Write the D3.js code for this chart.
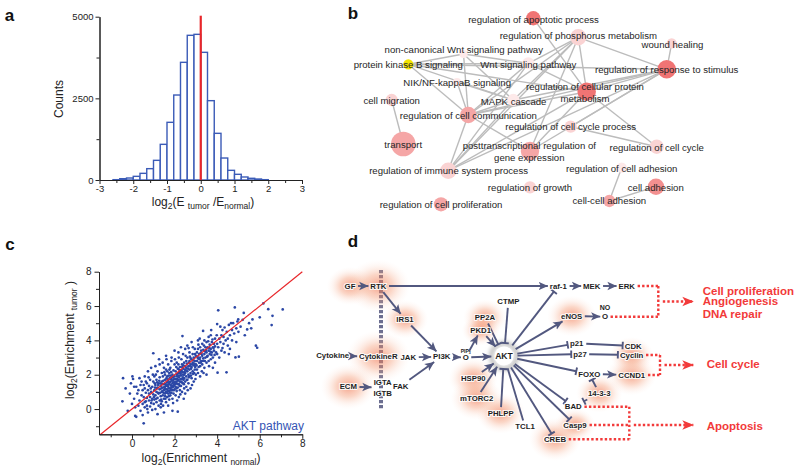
<!DOCTYPE html>
<html>
<head>
<meta charset="utf-8">
<script src="https://cdn.jsdelivr.net/npm/d3@7/dist/d3.min.js"></script>
<style>
body{margin:0;background:#fff;}
svg{display:block;font-family:"Liberation Sans",Arial,Helvetica,sans-serif;}
</style>
</head>
<body>
<svg id="fig" width="800" height="475"></svg>
<script>
// ================= DATA =================
// Panel a: histogram of log2(E_tumor/E_normal)
const histBinStart = [-2.6,-2.4,-2.2,-2.0,-1.8,-1.6,-1.4,-1.2,-1.0,-0.8,-0.6,-0.4,-0.2,0,0.2,0.4,0.6,0.8,1.0,1.2,1.4,1.6,1.8];
const histCounts   = [10,40,61,112,204,347,602,1092,1766,2602,3603,4430,4460,3909,2429,1429,673,296,174,92,52,30,10];
const histBinWidth = 0.2;
const histXTicks = [-3,-2,-1,0,1,2,3];
const histXMinor = [-2.5,-1.5,-0.5,0.5,1.5,2.5];
const histYTicks = [0,2500,5000];
const histYMinor = [1250,3750];

// Panel b: GO term network  [id, label, x, y, labelX, labelY, genes, level]
const netNodes = [
 ["apoptotic","regulation of apoptotic process",203.3,18.3,203.5,19.3,49,3],
 ["phosphorus","regulation of phosphorus metabolism",248.3,37.3,248.3,36,64,1],
 ["wound","wound healing",341.7,43.3,342.5,44.3,25,1],
 ["response","regulation of response to stimulus",336.7,69.3,336.7,69.5,81,3],
 ["noncanon","non-canonical Wnt signaling pathway",133.5,54,133.8,50,16,0],
 ["pkb","protein kinase B signaling",78.3,64.3,78.3,65,25,4],
 ["wnt","Wnt signaling pathway",198.3,63.3,198.3,65,36,0],
 ["nik","NIK/NF-kappaB signaling",127,82,127.2,82.7,16,0],
 ["cellprot","regulation of cellular protein\nmetabolism",256.7,91.7,255,92.8,81,3],
 ["migration","cell migration",61.7,100,61.7,100.7,36,1],
 ["mapk","MAPK cascade",183.3,100,183.6,101.7,36,0],
 ["comm","regulation of cell communication",138.3,115,138.3,116,64,2],
 ["cycleproc","regulation of cell cycle process",240.7,126.7,240.7,126.9,36,1],
 ["transport","transport",73.3,144,73.3,145,144,2],
 ["posttx","posttranscriptional regulation of\ngene expression",200,151,199.3,151.5,81,2],
 ["cellcycle","regulation of cell cycle",326.7,146.7,326.7,147.3,49,1],
 ["immune","regulation of immune system process",118.3,170.7,118.6,171,64,1],
 ["adhreg","regulation of cell adhesion",291.7,167.7,291.7,168.3,25,0],
 ["growth","regulation of growth",200,187.3,200,187.7,36,1],
 ["celladh","cell adhesion",326,186.7,325.8,187.3,64,2.5],
 ["cellcell","cell-cell adhesion",279.3,201,279.3,201,36,2],
 ["prolif","regulation of cell proliferation",111,204.3,111,205,49,2]
];
const netEdges = [
 ["apoptotic","cellprot"],
 ["phosphorus","response"],["phosphorus","cellprot"],["phosphorus","comm"],["phosphorus","posttx"],
 ["phosphorus","mapk"],["phosphorus","immune"],["phosphorus","wnt"],
 ["wound","response"],
 ["response","cellprot"],["response","comm"],["response","posttx"],["response","pkb"],
 ["response","immune"],["response","mapk"],["response","cycleproc"],
 ["pkb","comm"],["pkb","mapk"],["pkb","noncanon"],["pkb","wnt"],["pkb","cellprot"],
 ["noncanon","comm"],["noncanon","wnt"],["noncanon","mapk"],
 ["wnt","comm"],["wnt","immune"],["wnt","cellprot"],
 ["nik","comm"],["nik","mapk"],
 ["migration","transport"],
 ["comm","posttx"],["comm","cellprot"],["comm","immune"],["comm","mapk"],
 ["cellprot","cellcycle"],["cellprot","posttx"],["cellprot","immune"],
 ["cycleproc","cellcycle"],
 ["mapk","immune"],
 ["celladh","cellcell"],["adhreg","cellcell"]
];
const netLevelColors = {0:"#fde9e9",1:"#fad3d3",2:"#f5a6a6",2.5:"#f39090",3:"#f07474",4:"#f3e400"};

// Panel c: AKT pathway enrichment scatter  [log2 normal, log2 tumor]
const scatterTicks = [0,2,4,6,8];
const scatterMinor = [-1,1,3,5,7];
const aktPoints = [
 [-0.42,1.8],[-0.45,0.45],[-0.3,1.2],[-0.1,0.9],[-0.2,-0.1],[0.02,1.9],[0.05,1.75],[0.0,0.3],[-0.05,1.5],
 [0.1,0.6],[0.15,-0.4],[0.2,-0.45],[0.2,1.3],[0.25,0.9],[0.3,0.2],[0.3,1.1],[0.35,0.5],[0.4,1.4],[0.4,-0.1],[0.45,0.8],[0.45,1.6],[0.5,0.3],[0.5,-0.35],[0.5,1.1],[0.1,1.3],[0.35,1.8],[0.15,0.1],
 [0.55,-0.83],[0.55,0.7],[0.6,1.2],[0.6,0.1],[0.6,1.9],[0.65,0.45],[0.65,0.95],[0.7,0.2],[0.7,1.5],[0.7,0.65],[0.75,1.1],[0.75,-0.2],[0.75,2.2],[0.8,0.5],[0.8,0.9],[0.8,1.35],[0.85,0.15],[0.85,1.7],[0.85,0.7],[0.9,1.0],[0.9,0.35],[0.9,2.4],[0.95,0.6],[0.95,1.3],[0.95,-0.05],[1.0,0.85],[1.0,1.6],[1.0,3.25],[0.6,0.4],[0.65,1.6],[0.72,0.0],[0.78,1.85],[0.88,1.2],[0.92,0.5],[0.98,2.0],[0.55,1.4],
 [1.02,0.3],[1.05,1.1],[1.05,0.55],[1.05,1.9],[1.1,0.0],[1.1,1.4],[1.1,0.8],[1.1,2.5],[1.15,1.0],[1.15,0.4],[1.15,1.7],[1.2,0.65],[1.2,1.25],[1.2,2.2],[1.2,-0.3],[1.25,0.9],[1.25,1.5],[1.25,0.2],[1.3,1.15],[1.3,0.5],[1.3,1.85],[1.3,2.6],[1.35,0.75],[1.35,1.35],[1.35,0.1],[1.4,1.0],[1.4,1.6],[1.4,0.45],[1.4,2.1],[1.45,1.25],[1.45,0.8],[1.45,1.9],[1.5,0.6],[1.5,1.45],[1.5,1.1],[1.5,2.4],[1.5,-0.2],[1.08,1.25],[1.18,1.55],[1.22,0.95],[1.28,1.65],[1.32,0.95],[1.38,1.2],[1.42,1.45],[1.48,0.95],[1.12,2.0],[1.27,2.9],[1.44,2.7],[1.36,0.3],[1.46,0.2],
 [1.55,1.2],[1.55,0.9],[1.55,1.7],[1.55,2.0],[1.6,0.4],[1.6,1.35],[1.6,1.0],[1.6,2.3],[1.6,3.1],[1.65,1.55],[1.65,0.7],[1.65,1.15],[1.65,1.9],[1.7,1.3],[1.7,0.9],[1.7,1.7],[1.7,2.6],[1.7,0.2],[1.75,1.45],[1.75,1.05],[1.75,2.1],[1.75,0.55],[1.8,1.6],[1.8,1.2],[1.8,0.8],[1.8,2.4],[1.8,1.95],[1.85,1.35],[1.85,1.75],[1.85,0.95],[1.85,2.8],[1.9,1.5],[1.9,1.1],[1.9,2.0],[1.9,0.6],[1.9,-0.1],[1.95,1.7],[1.95,1.3],[1.95,2.25],[1.95,0.9],[2.0,1.55],[2.0,1.9],[2.0,1.15],[2.0,2.6],[2.0,3.4],[1.58,1.45],[1.62,1.8],[1.68,1.4],[1.72,1.95],[1.78,1.55],[1.82,1.4],[1.88,1.65],[1.92,1.85],[1.98,1.4],[1.66,2.2],[1.76,2.3],[1.84,2.15],[1.57,0.6],[1.73,0.75],[1.93,0.35],[1.62,2.9],[1.86,3.0],[1.52,2.15],
 [2.05,1.3],[2.05,1.75],[2.05,2.2],[2.05,0.8],[2.1,1.5],[2.1,2.0],[2.1,1.05],[2.1,2.7],[2.15,1.65],[2.15,1.25],[2.15,2.35],[2.15,-0.15],[2.2,1.85],[2.2,1.45],[2.2,2.1],[2.2,0.7],[2.2,3.0],[2.25,1.6],[2.25,2.45],[2.25,1.1],[2.3,1.95],[2.3,1.35],[2.3,2.25],[2.3,3.6],[2.35,1.75],[2.35,2.6],[2.35,1.0],[2.37,4.25],[2.4,2.0],[2.4,1.5],[2.4,2.35],[2.4,3.2],[2.45,1.8],[2.45,2.7],[2.45,1.2],[2.5,2.1],[2.5,1.6],[2.5,2.5],[2.5,3.5],[2.5,0.9],[2.08,2.45],[2.12,1.9],[2.18,2.6],[2.22,1.95],[2.28,1.75],[2.32,2.9],[2.38,2.15],[2.42,1.7],[2.48,2.3],[2.12,0.5],[2.27,0.85],[2.43,0.6],[2.18,3.3],[2.33,1.55],[2.46,2.0],[2.02,2.9],[2.26,2.15],[2.36,2.45],
 [2.55,1.9],[2.55,2.4],[2.55,2.8],[2.55,1.3],[2.6,2.2],[2.6,1.7],[2.6,3.0],[2.6,3.7],[2.65,2.5],[2.65,2.0],[2.65,1.5],[2.7,2.3],[2.7,2.8],[2.7,1.9],[2.7,3.3],[2.75,2.6],[2.75,2.1],[2.75,1.2],[2.8,2.45],[2.8,2.9],[2.8,1.8],[2.8,3.9],[2.85,2.7],[2.85,2.2],[2.85,3.2],[2.9,2.55],[2.9,3.0],[2.9,1.6],[2.95,2.8],[2.95,2.3],[2.95,3.5],[3.0,2.6],[3.0,3.1],[3.0,2.0],[2.58,2.65],[2.68,2.7],[2.72,3.05],[2.78,2.35],[2.88,2.85],[2.92,2.1],[2.62,1.1],[2.82,1.4],[2.98,1.75],[2.66,3.55],[2.86,3.6],[2.52,3.1],[2.76,2.95],[2.96,3.2],
 [3.05,2.8],[3.05,3.3],[3.05,2.3],[3.1,2.95],[3.1,3.5],[3.1,2.1],[3.1,4.0],[3.15,2.7],[3.15,3.2],[3.2,3.0],[3.2,2.5],[3.2,3.6],[3.2,1.9],[3.25,3.4],[3.25,2.8],[3.3,3.1],[3.3,2.6],[3.3,3.8],[3.34,4.55],[3.35,2.95],[3.35,3.45],[3.4,3.2],[3.4,2.4],[3.4,4.0],[3.45,3.0],[3.45,3.6],[3.5,3.3],[3.5,2.7],[3.5,3.9],[3.5,2.0],[3.12,3.75],[3.22,3.25],[3.28,2.2],[3.38,3.7],[3.42,2.8],[3.48,3.45],[3.18,4.1],[3.36,2.1],
 [3.55,3.1],[3.55,3.6],[3.6,3.4],[3.6,2.8],[3.6,4.2],[3.65,3.2],[3.65,3.75],[3.7,3.5],[3.7,2.9],[3.7,4.3],[3.75,3.3],[3.75,3.9],[3.8,3.6],[3.8,3.0],[3.8,2.4],[3.85,3.8],[3.85,3.4],[3.9,3.65],[3.9,4.1],[3.9,2.7],[3.95,3.3],[4.0,3.8],[4.0,4.95],[4.0,3.2],[4.02,2.12],[3.58,3.95],[3.68,3.35],[3.78,4.05],[3.88,3.15],[3.98,4.3],[3.62,2.5],[3.72,4.6],
 [4.05,5.75],[4.05,3.6],[4.1,4.1],[4.1,3.0],[4.15,3.9],[4.2,4.3],[4.2,3.4],[4.25,4.6],[4.3,3.8],[4.3,4.2],[4.35,3.3],[4.4,4.0],[4.44,2.14],[4.45,4.5],[4.5,4.1],[4.5,3.7],[4.55,4.9],[4.6,4.3],[4.6,3.5],[4.7,4.6],[4.7,4.0],[4.75,5.0],[4.8,4.4],[4.83,5.92],[4.86,3.01],[4.9,4.7],[4.9,3.9],[4.95,5.1],[5.0,4.5],[4.15,4.8],[4.35,4.75],[4.65,5.0],[4.25,3.55],[4.55,3.2],
 [4.99,5.22],[5.02,3.05],[5.1,4.8],[5.2,5.2],[5.3,4.3],[5.41,4.64],[5.5,5.0],[5.66,5.22],[5.82,3.69],[5.88,3.57],[6.0,5.34],[6.17,6.15],[6.4,5.82],[6.56,4.89],[6.6,5.43],[7.08,5.8],[5.25,5.6],[5.6,4.7],
 [1.03,0.7],[1.07,1.5],[1.13,0.6],[1.17,1.2],[1.23,1.4],[1.33,1.5],[1.37,0.55],[1.43,1.05],[1.47,1.65],[1.53,1.3],[1.56,0.75],[1.59,1.15],[1.63,0.95],[1.67,1.7],[1.69,1.05],[1.71,1.55],[1.74,1.2],[1.77,1.8],[1.79,0.95],[1.81,1.75],[1.83,1.1],[1.87,1.25],[1.89,1.9],[1.91,1.35],[1.94,1.55],[1.97,1.1],[1.99,1.75],[2.03,1.45],[2.07,1.6],[2.09,1.2],[2.11,1.75],[2.14,2.05],[2.16,1.45],[2.19,1.7],[2.21,2.3],[2.24,1.35],[2.29,2.05],[2.31,1.6],[2.34,2.2],[2.39,1.85],[2.41,2.55],[2.44,1.45],[2.47,2.15],[2.53,2.25],[2.57,1.7],[2.63,2.35],[2.67,1.85],[2.73,2.5],[2.77,1.95],[2.83,2.6],[2.87,2.05],[2.93,2.65],[2.97,2.45],[3.03,2.55],[3.08,3.05],[3.13,2.45],[3.17,2.9],[3.23,2.7],[3.27,3.2],[3.33,2.8],[3.44,3.35],[3.53,3.05],[3.63,3.55],[3.73,3.15],[3.83,3.55]
];

// Panel d: AKT signalling diagram  [id, label, x, y, glow]
const pathNodes = [
 ["GF","GF",40,56,16],["RTK","RTK",68.3,56,22],["IRS1","IRS1",95,89.3,16],
 ["Cytokine","Cytokine",22.7,125.7,0],["CytokineR","CytokineR",68.3,126.7,22],["JAK","JAK",98.3,127.3,0],
 ["PI3K","PI3K",131.7,126.7,0],["PIP3","O",155.7,127.5,0],["AKT","AKT",194,126,0],
 ["ECM","ECM",38.3,156.7,19],["IGT","IGTA\nIGTB",72.7,157.5,0],["FAK","FAK",90.7,156,0],
 ["CTMP","CTMP",198.3,71.7,0],["PP2A","PP2A",175,87.3,15],["PKD1","PKD1",170.7,100,13],
 ["HSP90","HSP90",163.3,148.3,17],["mTORC2","mTORC2",166.7,168.3,18],["PHLPP","PHLPP",190.7,183.3,17],
 ["TCL1","TCL1",215,196.7,0],["CREB","CREB",245,209.3,18],["Casp9","Casp9",265,195,14],
 ["BAD","BAD",263.3,176.7,0],["1433","14-3-3",289.3,163.3,16],["FOXO","FOXO",279.3,144,0],
 ["CCND1","CCND1",321.7,145,17],["p21","p21",266.7,113.3,0],["p27","p27",270,124,0],
 ["CDK","CDK",323.3,116,0],["Cyclin","Cyclin",321.7,125,15],["eNOS","eNOS",261.7,86,17],
 ["NO","O",295,86.7,0],["raf1","raf-1",248.3,56,0],["MEK","MEK",281.7,56,0],["ERK","ERK",316.7,56,0]
];
const pathCaptions = [["PIP3","PIP","3",5],["NO","NO","",7]];
const pathEdges = [
 ["GF","RTK","a"],["RTK","raf1","a"],["raf1","MEK","a"],["MEK","ERK","a"],
 ["RTK","IRS1","a"],["IRS1","PI3K","a"],["Cytokine","CytokineR","a"],["JAK","PI3K","a"],
 ["FAK","PI3K","a"],["ECM","IGT","a"],["PI3K","PIP3","a"],["PIP3","PKD1","a"],["PIP3","AKT","a"],
 ["PKD1","AKT","a"],["PP2A","AKT","t"],["CTMP","AKT","t"],["HSP90","AKT","a"],["mTORC2","AKT","a"],
 ["PHLPP","AKT","t"],["TCL1","AKT","n"],
 ["AKT","raf1","t"],["AKT","eNOS","a"],["eNOS","NO","a"],
 ["AKT","p21","t"],["AKT","p27","t"],["AKT","FOXO","t"],["AKT","BAD","t"],["AKT","Casp9","t"],["AKT","CREB","t"],
 ["p21","CDK","t"],["p27","Cyclin","t"],["FOXO","CCND1","a"],["1433","FOXO","t"],["1433","BAD","t"]
];
const pathOutputs = [
 {labels:["Cell proliferation","Angiogenesis","DNA repair"], labelX:392.7, labelY:[61,71.3,83.5], sources:["ERK","NO"], bracketX:348.3, arrowY:71.5},
 {labels:["Cell cycle"], labelX:396.7, labelY:[134.3], sources:["Cyclin","CCND1"], bracketX:350, arrowY:135},
 {labels:["Apoptosis"], labelX:396.7, labelY:[195.7], sources:["BAD","Casp9","CREB"], bracketX:319.3, arrowY:195}
];

// ================= DRAWING =================
const svg = d3.select("#fig");
svg.append("rect").attr("width",800).attr("height",475).attr("fill","#fff");
const defs = svg.append("defs");
const INK = "#222";

function styleAxis(g, fs){
  g.attr("font-family",null).attr("font-size",fs);
  g.selectAll("path,line").attr("stroke",INK).attr("stroke-width",1);
  g.selectAll("text").attr("fill",INK);
}
function subLabel(t, parts, base, sub){
  parts.forEach(([s,isSub],i)=>{
    const prev = i>0 ? parts[i-1][1] : false;
    const sp = t.append("tspan").text(s).attr("font-size", isSub ? sub : base);
    if(isSub && !prev) sp.attr("dy", 3.2);
    if(!isSub && prev) sp.attr("dy", -3.2);
  });
}

// panel letters
[["a",9.5,21],["b",353,19],["c",10,250],["d",353,247]].forEach(([l,x,y])=>{
  svg.append("text").attr("x",x).attr("y",y).attr("text-anchor","middle")
    .attr("font-size",17).attr("font-weight","bold").attr("fill","#111").text(l);
});

// ---------- Panel a ----------
{
  const xA = d3.scaleLinear().domain([-3,3]).range([99.5,302]);
  const yA = d3.scaleLinear().domain([0,5000]).range([180,16.7]);
  const g = svg.append("g");
  g.selectAll("rect.bar").data(histCounts).join("rect")
    .attr("x",(d,i)=>xA(histBinStart[i]))
    .attr("width",(d,i)=>xA(histBinStart[i]+histBinWidth)-xA(histBinStart[i]))
    .attr("y",d=>yA(d)).attr("height",d=>yA(0)-yA(d))
    .attr("fill","#fff").attr("stroke","#3b5bb7").attr("stroke-width",1.4);
  g.append("line").attr("x1",xA(0)).attr("x2",xA(0)).attr("y1",yA(5000)-1).attr("y2",yA(0))
    .attr("stroke","#e8262a").attr("stroke-width",2.2);
  const ym = g.append("g").attr("transform",`translate(${xA(-3)},0)`)
    .call(d3.axisLeft(yA).tickValues(histYMinor).tickSize(3).tickSizeOuter(0).tickFormat(""));
  styleAxis(ym,9.5);
  const yM = g.append("g").attr("transform",`translate(${xA(-3)},0)`)
    .call(d3.axisLeft(yA).tickValues(histYTicks).tickSize(4).tickSizeOuter(0).tickPadding(2).tickFormat(d=>String(d)));
  styleAxis(yM,9.5);
  const xm = g.append("g").attr("transform",`translate(0,${yA(0)})`)
    .call(d3.axisBottom(xA).tickValues(histXMinor).tickSize(3).tickSizeOuter(0).tickFormat(""));
  styleAxis(xm,9.5);
  const xM = g.append("g").attr("transform",`translate(0,${yA(0)})`)
    .call(d3.axisBottom(xA).tickValues(histXTicks).tickSize(4).tickSizeOuter(0).tickPadding(1).tickFormat(d=>String(d)));
  styleAxis(xM,9.5);
  g.append("text").attr("transform","translate(59,99) rotate(-90)").attr("text-anchor","middle")
    .attr("dy","0.35em").attr("font-size",12).attr("fill",INK).text("Counts");
  const t = g.append("text").attr("x",203).attr("y",206).attr("text-anchor","middle").attr("fill",INK);
  subLabel(t,[["log",0],["2",1],["(E ",0],["tumor",1],[" /E",0],["normal",1],[")",0]],12,8.5);
}

// ---------- Panel b ----------
{
  const bX = d3.scaleLinear().domain([0,470]).range([330,800]);
  const bY = d3.scaleLinear().domain([0,230]).range([0,230]);
  const rS = d3.scaleSqrt().domain([0,144]).range([0,12.3]);
  const g = svg.append("g");
  const byId = {};
  netNodes.forEach(n=>{ byId[n[0]] = n; });
  g.selectAll("line.edge").data(netEdges).join("line")
    .attr("x1",d=>bX(byId[d[0]][2])).attr("y1",d=>bY(byId[d[0]][3]))
    .attr("x2",d=>bX(byId[d[1]][2])).attr("y2",d=>bY(byId[d[1]][3]))
    .attr("stroke","#bcbcbc").attr("stroke-width",1.4);
  g.selectAll("circle.node").data(netNodes).join("circle")
    .attr("cx",d=>bX(d[2])).attr("cy",d=>bY(d[3])).attr("r",d=>rS(d[6]))
    .attr("fill",d=>netLevelColors[d[7]]);
  netNodes.forEach(d=>{
    const lines = d[1].split("\n");
    const lh = 12;
    const t = g.append("text").attr("text-anchor","middle").attr("font-size",9.6).attr("fill","#262626");
    lines.forEach((s,i)=>{
      t.append("tspan").attr("x",bX(d[4]))
        .attr("y",bY(d[5]) + (i-(lines.length-1)/2)*lh).attr("dy","0.35em").text(s);
    });
  });
}

// ---------- Panel c ----------
{
  const xC = d3.scaleLinear().domain([-1.55,8]).range([99,302.3]);
  const yC = d3.scaleLinear().domain([-1.47,8]).range([434.3,271.7]);
  const g = svg.append("g");
  g.selectAll("circle.pt").data(aktPoints).join("circle")
    .attr("cx",d=>xC(d[0])).attr("cy",d=>yC(d[1])).attr("r",1.35).attr("fill","#2b47a6");
  g.append("line").attr("x1",xC(-1.5)).attr("y1",yC(-1.5)).attr("x2",xC(8)).attr("y2",yC(8))
    .attr("stroke","#e8262a").attr("stroke-width",1.2);
  const x0 = xC(-1.55), y0 = yC(-1.47);
  const a1 = g.append("g").attr("transform",`translate(${x0},0)`)
    .call(d3.axisLeft(yC).tickValues(scatterMinor).tickSize(3).tickSizeOuter(0).tickFormat(""));
  styleAxis(a1,10);
  const a2 = g.append("g").attr("transform",`translate(${x0},0)`)
    .call(d3.axisLeft(yC).tickValues(scatterTicks).tickSize(4.5).tickSizeOuter(0).tickPadding(3).tickFormat(d=>String(d)));
  styleAxis(a2,10);
  const a3 = g.append("g").attr("transform",`translate(0,${y0})`)
    .call(d3.axisBottom(xC).tickValues(scatterMinor).tickSize(3).tickSizeOuter(0).tickFormat(""));
  styleAxis(a3,10);
  const a4 = g.append("g").attr("transform",`translate(0,${y0})`)
    .call(d3.axisBottom(xC).tickValues(scatterTicks).tickSize(4.5).tickSizeOuter(0).tickPadding(1).tickFormat(d=>String(d)));
  styleAxis(a4,10);
  g.append("text").attr("x",304).attr("y",430).attr("text-anchor","end")
    .attr("font-size",12).attr("fill","#3454b4").text("AKT pathway");
  const ty = g.append("text").attr("transform","translate(74,340) rotate(-90)").attr("text-anchor","middle").attr("fill",INK);
  subLabel(ty,[["log",0],["2",1],["(Enrichment ",0],["tumor",1],[" )",0]],12,8.5);
  const tx = g.append("text").attr("x",201).attr("y",462).attr("text-anchor","middle").attr("fill",INK);
  subLabel(tx,[["log",0],["2",1],["(Enrichment ",0],["normal",1],[")",0]],12,8.5);
}

// ---------- Panel d ----------
{
  const dX = d3.scaleLinear().domain([0,490]).range([310,800]);
  const dY = d3.scaleLinear().domain([0,245]).range([230,475]);
  const SL = "#52587f", RED = "#f23a3a";
  const grad = defs.append("radialGradient").attr("id","glow");
  grad.append("stop").attr("offset","0").attr("stop-color","#ef6a44").attr("stop-opacity",0.62);
  grad.append("stop").attr("offset","0.45").attr("stop-color","#f4946c").attr("stop-opacity",0.38);
  grad.append("stop").attr("offset","0.75").attr("stop-color","#f8bca2").attr("stop-opacity",0.15);
  grad.append("stop").attr("offset","1").attr("stop-color","#fde0d4").attr("stop-opacity",0);
  const blur = defs.append("filter").attr("id","blurA").attr("x","-50%").attr("y","-50%").attr("width","200%").attr("height","200%");
  blur.append("feGaussianBlur").attr("stdDeviation",2.4);
  const mk = (id,path,vb,ref,w,fill,stroke)=>{
    const m = defs.append("marker").attr("id",id).attr("viewBox",vb).attr("refX",ref).attr("refY",0)
      .attr("markerUnits","userSpaceOnUse").attr("markerWidth",w).attr("markerHeight",w).attr("orient","auto");
    const p = m.append("path").attr("d",path);
    if(fill) p.attr("fill",fill); else p.attr("fill","none");
    if(stroke) p.attr("stroke",stroke).attr("stroke-width",1.9);
  };
  mk("arrS","M0,-4L9,0L0,4L2.2,0Z","0 -5 10 10",8.8,10.5,SL,null);
  mk("tS","M0,-3.8V3.8","-2 -5 4 10",0,10,null,SL);
  mk("arrR","M0,-4.8L11.5,0L0,4.8L3,0Z","0 -6 12 12",11,12,RED,null);

  const g = svg.append("g");
  const nodes = {};
  pathNodes.forEach(([id,label,x,y,glow])=>{ nodes[id] = {id,label,x,y,glow}; });

  // membrane
  g.append("line").attr("x1",dX(71)).attr("x2",dX(71)).attr("y1",dY(40)).attr("y2",dY(178.5))
    .attr("stroke","#6b6e90").attr("stroke-width",4).attr("stroke-dasharray","3.2,1.8");
  // glows
  g.append("g").selectAll("ellipse").data(pathNodes.filter(d=>d[4]>0)).join("ellipse")
    .attr("cx",d=>dX(d[2])).attr("cy",d=>dY(d[3])).attr("rx",d=>d[4]*1.45).attr("ry",d=>d[4]*1.2)
    .attr("fill","url(#glow)");
  // AKT halo
  const akt = nodes["AKT"];
  g.append("circle").attr("cx",dX(akt.x)).attr("cy",dY(akt.y)).attr("r",14).attr("fill","#a0a0a0").attr("filter","url(#blurA)");
  g.append("circle").attr("cx",dX(akt.x)).attr("cy",dY(akt.y)).attr("r",11.5).attr("fill","#fff").attr("filter","url(#blurA)");
  g.append("circle").attr("cx",dX(akt.x)).attr("cy",dY(akt.y)).attr("r",9.5).attr("fill","#fff");

  const gLines = g.append("g");
  const gRed = g.append("g");
  const gText = g.append("g");

  // labels
  Object.values(nodes).forEach(n=>{
    const lines = n.label.split("\n");
    const lh = 11;
    const fs = n.id==="AKT" ? 8.6 : 7.8;
    const t = gText.append("text").attr("text-anchor","middle").attr("font-size",fs).attr("font-weight","bold")
      .attr("fill","#1e1e1e").attr("stroke","#fff").attr("stroke-width",2.2).attr("stroke-opacity",0.85)
      .attr("stroke-linejoin","round").attr("paint-order","stroke");
    lines.forEach((s,i)=>{
      t.append("tspan").attr("x",dX(n.x)).attr("y",dY(n.y)+(i-(lines.length-1)/2)*lh).attr("dy","0.35em").text(s);
    });
    const bb = t.node().getBBox();
    n.hw = bb.width/2 + 0.5;
    n.hh = (lines.length-1)*lh/2 + 4.2;
  });
  pathCaptions.forEach(([id,txt,sub,fs])=>{
    const n = nodes[id];
    const t = gText.append("text").attr("x",dX(n.x)).attr("y",dY(n.y)-fs*0.95).attr("text-anchor","middle")
      .attr("font-size",fs).attr("font-weight","bold").attr("fill","#1e1e1e");
    t.append("tspan").text(txt);
    if(sub) t.append("tspan").attr("font-size",fs*0.7).attr("dy",1.2).text(sub);
  });

  function clip(n, px, py, pad){
    const dx = px-n.x, dy = py-n.y;
    if(n.id==="AKT"){ const L = Math.hypot(dx,dy); const r = 11.5+pad; return [n.x+dx/L*r, n.y+dy/L*r]; }
    const t = Math.min((n.hw+pad)/Math.max(Math.abs(dx),1e-6),(n.hh+pad)/Math.max(Math.abs(dy),1e-6));
    return [n.x+dx*t, n.y+dy*t];
  }
  pathEdges.forEach(([s,tg,type])=>{
    const a = nodes[s], b = nodes[tg];
    const p1 = clip(a,b.x,b.y,2);
    const p2 = clip(b,a.x,a.y,type==="t"?1.5:1.2);
    const ln = gLines.append("line").attr("x1",dX(p1[0])).attr("y1",dY(p1[1])).attr("x2",dX(p2[0])).attr("y2",dY(p2[1]))
      .attr("stroke",SL).attr("stroke-width",1.9);
    if(type==="a") ln.attr("marker-end","url(#arrS)");
    if(type==="t") ln.attr("marker-end","url(#tS)");
  });

  // outputs
  pathOutputs.forEach(o=>{
    const ys = o.sources.map(id=>nodes[id].y);
    o.sources.forEach(id=>{
      const n = nodes[id];
      gRed.append("line").attr("x1",dX(n.x+n.hw+2)).attr("x2",dX(o.bracketX)).attr("y1",dY(n.y)).attr("y2",dY(n.y))
        .attr("stroke",RED).attr("stroke-width",2.4).attr("stroke-dasharray","2.4,2.1");
    });
    gRed.append("line").attr("x1",dX(o.bracketX)).attr("x2",dX(o.bracketX)).attr("y1",dY(d3.min(ys))).attr("y2",dY(d3.max(ys)))
      .attr("stroke",RED).attr("stroke-width",2.4).attr("stroke-dasharray","2.4,2.1");
    gRed.append("line").attr("x1",dX(o.bracketX+4.5)).attr("x2",dX(383.3)).attr("y1",dY(o.arrowY)).attr("y2",dY(o.arrowY))
      .attr("stroke",RED).attr("stroke-width",2.4).attr("stroke-dasharray","2.4,2.1").attr("marker-end","url(#arrR)");
    o.labels.forEach((s,i)=>{
      gText.append("text").attr("x",dX(o.labelX)).attr("y",dY(o.labelY[i])).attr("dy","0.35em")
        .attr("font-size",11.5).attr("font-weight","bold").attr("fill",RED).text(s);
    });
  });
}
</script>
</body>
</html>
